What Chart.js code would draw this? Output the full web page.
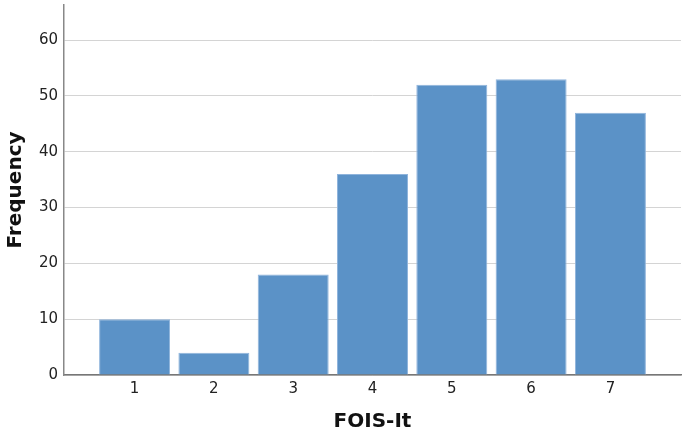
<!DOCTYPE html>
<html>
<head>
<meta charset="utf-8">
<script src="https://cdn.jsdelivr.net/npm/chart.js@4"></script>
<style>
  html, body { margin: 0; padding: 0; background: #fff; }
  #wrap { width: 685px; height: 438px; position: relative; }
</style>
</head>
<body>
<div id="wrap"><canvas id="canvas"></canvas></div>
<script>
const categories = [1, 2, 3, 4, 5, 6, 7]
const frequencies = [10, 4, 18, 36, 52, 53, 47]
const yTicks = [0, 10, 20, 30, 40, 50, 60]

const points = categories.map((c, i) => ({ x: c, y: frequencies[i] }))

const data = {
  datasets: [
    {
      label: 'Frequency',
      data: points,
      backgroundColor: '#5b92c7',
      borderColor: '#8fb4dc',
      borderWidth: 1,
      barPercentage: 0.895,
      categoryPercentage: 1,
    },
  ],
}

const config = {
  type: 'bar',
  data: data,
  options: {
    responsive: true,
    maintainAspectRatio: false,
    animation: false,
    layout: { padding: { top: 5, right: 4, left: 0, bottom: 0 } },
    plugins: {
      legend: { display: false },
      tooltip: { enabled: false },
    },
    scales: {
      x: {
        type: 'linear',
        min: 0.11,
        max: 7.89,
        offset: false,
        grid: { display: false, drawTicks: false },
        border: { display: true, color: '#777', width: 1.5 },
        ticks: {
          font: { family: 'DejaVu Sans', size: 15 },
          color: '#222',
          padding: 5,
        },
        afterBuildTicks: (axis) => {
          axis.ticks = categories.map(v => ({ value: v }))
        },
        title: {
          display: true,
          text: 'FOIS-It',
          font: { family: 'DejaVu Sans', size: 20, weight: 'bold' },
          color: '#111',
          padding: { top: 10 },
        },
        afterFit: (axis) => {
          axis.height = 63
          axis.paddingLeft = 0
          axis.paddingRight = 0
        },
      },
      y: {
        min: 0,
        max: 66.3,
        grid: { color: '#d4d4d4', lineWidth: 1, drawTicks: false },
        border: { display: true, color: '#888', width: 1.5 },
        ticks: {
          font: { family: 'DejaVu Sans', size: 15 },
          color: '#222',
          padding: 6,
        },
        afterBuildTicks: (axis) => {
          axis.ticks = yTicks.map(v => ({ value: v }))
        },
        title: {
          display: true,
          text: 'Frequency',
          font: { family: 'DejaVu Sans', size: 20, weight: 'bold' },
          color: '#111',
          padding: { bottom: 4 },
        },
        afterFit: (axis) => {
          axis.width = 64
          axis.paddingTop = 0
          axis.paddingBottom = 0
        },
      },
    },
  },
}

const canvas = document.getElementById('canvas')
const chart = new Chart(canvas, config)
</script>
</body>
</html>
